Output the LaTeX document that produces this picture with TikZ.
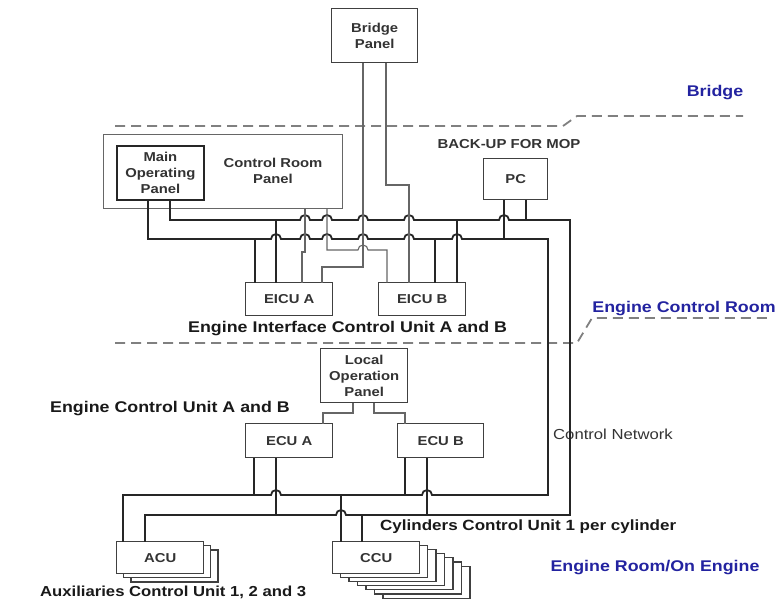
\documentclass[tikz,border=0pt]{standalone}
\usepackage{fontspec}
\setmainfont{Liberation Sans}[FakeStretch=1.15]
\definecolor{zoneblue}{RGB}{35,35,160}
\tikzset{
  bus/.style={line width=1.8pt, draw=black!85, line cap=rect},
  thinw/.style={line width=1.1pt, draw=black!60, line cap=rect},
  box/.style={draw=black!75, line width=1.4pt, fill=white, inner sep=0pt, anchor=north west,
    align=center, text=black!80, font=\bfseries\fontsize{12.9}{16}\selectfont},
  stackbox/.style={draw=black!75, line width=1.2pt, fill=white},
  biglabel/.style={font=\bfseries\fontsize{15.5}{18}\selectfont, text=black!90, inner sep=0pt},
  zonelabel/.style={font=\bfseries\fontsize{15.5}{18}\selectfont, text=zoneblue, inner sep=0pt},
  sepline/.style={draw=black!50, line width=1.8pt, dash pattern=on 10pt off 6pt},
}
\begin{document}
\begin{tikzpicture}[x=1pt,y=-1pt]
\useasboundingbox (0,0) rectangle (782,602);

% zone separators
\draw[sepline] (115,126) -- (563,126) -- (577,116) -- (743,116);
\draw[sepline] (115,343) -- (577,343) -- (592,318) -- (767,318);

% zone labels
\node[zonelabel] (zbridge) at (715,93) {Bridge};
\node[zonelabel] (zecr) at (684,309) {Engine Control Room};
\node[zonelabel] (zer) at (655,568) {Engine Room/On Engine};

% stacked copies
\foreach \i in {2,1}
  \draw[stackbox] (116+7.5*\i,541+4.5*\i) rectangle ++(87,32);
\foreach \i in {6,5,4,3,2,1}
  \draw[stackbox] (332+8.5*\i,541+4.2*\i) rectangle ++(87,32);

% boxes
\node[box, minimum width=86pt, minimum height=54pt] (bridge) at (331,8) {Bridge\\Panel};
\node[box, minimum width=239pt, minimum height=74pt, draw=black!60, line width=1.1pt] (crp) at (103,134) {};
\node[font=\bfseries\fontsize{12.9}{16}\selectfont, text=black!80, align=center, inner sep=0pt] (crplabel) at (273,171) {Control Room\\Panel};
\node[box, minimum width=87pt, minimum height=54pt, line width=1.8pt, draw=black!85] (mop) at (116,145) {Main\\Operating\\Panel};
\node[box, minimum width=64pt, minimum height=41pt] (pc) at (483,158) {PC};
\node[box, minimum width=87pt, minimum height=33pt] (eicuA) at (245,282) {EICU A};
\node[box, minimum width=87pt, minimum height=33pt] (eicuB) at (378,282) {EICU B};
\node[box, minimum width=87pt, minimum height=54pt] (lop) at (320,348) {Local\\Operation\\Panel};
\node[box, minimum width=87pt, minimum height=34pt] (ecuA) at (245,423) {ECU A};
\node[box, minimum width=86pt, minimum height=34pt] (ecuB) at (397,423) {ECU B};
\node[box, minimum width=87pt, minimum height=32pt] (acu) at (116,541) {ACU};
\node[box, minimum width=87pt, minimum height=32pt] (ccu) at (332,541) {CCU};

% texts
\node[font=\bfseries\fontsize{13}{15}\selectfont, text=black!80, inner sep=0pt] (backup) at (509,144) {BACK-UP FOR MOP};
\node[biglabel, anchor=west] (eiculbl) at (188,329) {Engine Interface Control Unit A and B};
\node[biglabel, anchor=west] (eculbl) at (50,409) {Engine Control Unit A and B};
\node[biglabel, anchor=west, font=\bfseries\fontsize{14.8}{18}\selectfont] (ccul) at (380,527) {Cylinders Control Unit 1 per cylinder};
\node[biglabel, anchor=west, font=\bfseries\fontsize{14.5}{18}\selectfont] (acul) at (40,592) {Auxiliaries Control Unit 1, 2 and 3};
\node[font=\fontsize{14.5}{16}\selectfont, text=black!80, inner sep=0pt, anchor=west] (cnet) at (553,434) {Control Network};

% upper network bus
\draw[bus] ([xshift=54pt]mop.south west) -- (170,220)
  -- (300,220) arc[start angle=180,end angle=360,radius=5]
  -- (322,220) arc[start angle=180,end angle=360,radius=5]
  -- (358,220) arc[start angle=180,end angle=360,radius=5]
  -- (404,220) arc[start angle=180,end angle=360,radius=5]
  -- (499,220) arc[start angle=180,end angle=360,radius=5]
  -- (570,220) -- (570,515);
\draw[bus] ([xshift=29pt]acu.north west) -- (145,515)
  -- (336,515) arc[start angle=180,end angle=360,radius=5]
  -- (570,515);

% lower network bus
\draw[bus] ([xshift=32pt]mop.south west) -- (148,239)
  -- (271,239) arc[start angle=180,end angle=360,radius=5]
  -- (300,239) arc[start angle=180,end angle=360,radius=5]
  -- (322,239) arc[start angle=180,end angle=360,radius=5]
  -- (358,239) arc[start angle=180,end angle=360,radius=5]
  -- (404,239) arc[start angle=180,end angle=360,radius=5]
  -- (452,239) arc[start angle=180,end angle=360,radius=5]
  -- (548,239) -- (548,495);
\draw[bus] ([xshift=7pt]acu.north west) -- (123,495)
  -- (271,495) arc[start angle=180,end angle=360,radius=5]
  -- (422,495) arc[start angle=180,end angle=360,radius=5]
  -- (548,495);

% EICU drops
\draw[bus] ([xshift=10pt]eicuA.north west) -- (255,239);
\draw[bus] ([xshift=31pt]eicuA.north west) -- (276,220);
\draw[bus] ([xshift=57pt]eicuB.north west) -- (435,239);
\draw[bus] ([xshift=79pt]eicuB.north west) -- (457,220);

% PC
\draw[bus] ([xshift=21pt]pc.south west) -- (504,239);
\draw[bus] ([xshift=43pt]pc.south west) -- (526,220);

% control room panel to EICUs
\draw[thinw] ([xshift=202pt]crp.south west) -- (305,252) -- (302,252) -- ([xshift=57pt]eicuA.north west);
\draw[thinw] ([xshift=224pt]crp.south west) -- (327,250)
  -- (358,250) arc[start angle=180,end angle=360,radius=5]
  -- (387,250) -- ([xshift=9pt]eicuB.north west);

% bridge panel to EICUs
\draw[thinw] ([xshift=32pt]bridge.south west) -- (363,267) -- (322,267) -- ([xshift=77pt]eicuA.north west);
\draw[thinw] ([xshift=55pt]bridge.south west) -- (386,185) -- (409,185) -- ([xshift=31pt]eicuB.north west);

% ECU drops
\draw[bus] ([xshift=9pt]ecuA.south west) -- (254,495);
\draw[bus] ([xshift=31pt]ecuA.south west) -- (276,515);
\draw[bus] ([xshift=8pt]ecuB.south west) -- (405,495);
\draw[bus] ([xshift=30pt]ecuB.south west) -- (427,515);

% CCU
\draw[bus] ([xshift=9pt]ccu.north west) -- (341,495);
\draw[bus] ([xshift=30pt]ccu.north west) -- (362,515);

% local operation panel to ECUs
\draw[thinw] ([xshift=33pt]lop.south west) -- (353,413) -- (323,413) -- ([xshift=78pt]ecuA.north west);
\draw[thinw] ([xshift=54pt]lop.south west) -- (374,413) -- (405,413) -- ([xshift=8pt]ecuB.north west);

\end{tikzpicture}
\end{document}
